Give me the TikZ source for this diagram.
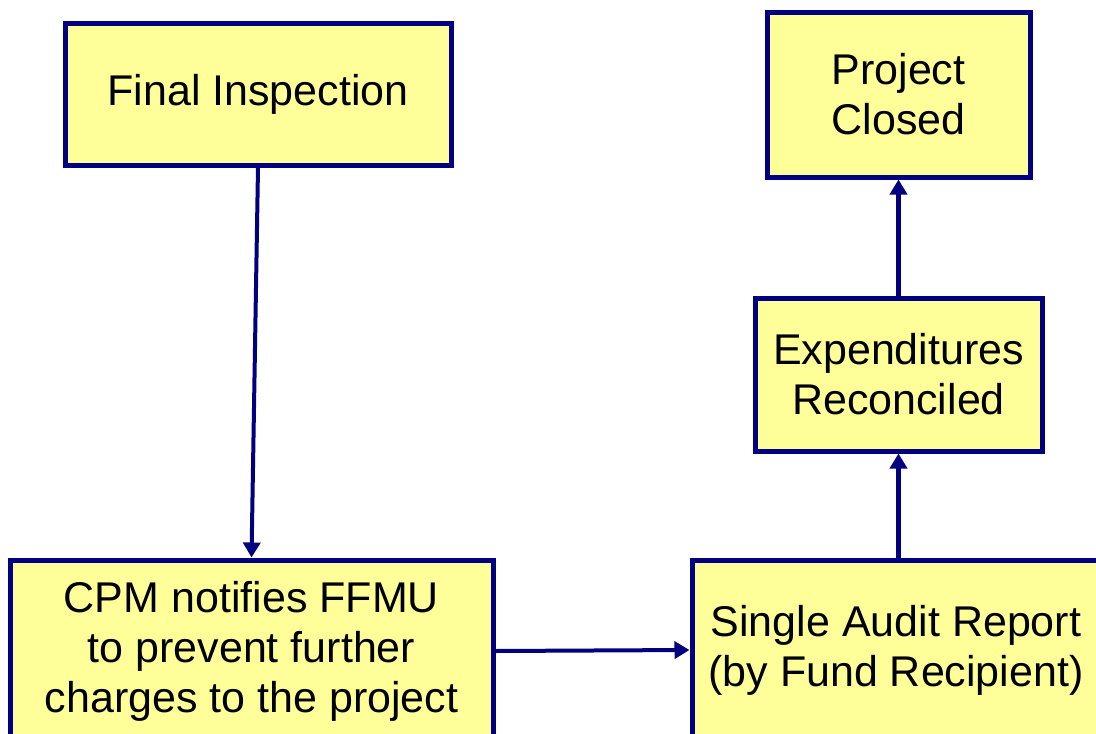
\documentclass[tikz,border=0pt]{standalone}
\usepackage{fontspec}
\setmainfont{Liberation Sans}
\usetikzlibrary{arrows.meta}
\definecolor{boxfill}{HTML}{FFFF99}
\definecolor{navy}{HTML}{000080}
\begin{document}
\begin{tikzpicture}[x=1pt,y=-1pt,
  stepbox/.style={draw=navy, line width=5pt, fill=boxfill, align=center,
    inner sep=0pt, font=\fontsize{43}{50}\selectfont},
  flow/.style={draw=navy, -{Triangle[width=17pt,length=15pt]}}]
  \clip (0,0) rectangle (1096,734);
  \fill[white] (0,0) rectangle (1096,734);
  % process boxes
  \node[stepbox, minimum width=386pt, minimum height=142pt] (fi) at (258,94) {Final Inspection};
  \node[stepbox, minimum width=263pt, minimum height=165pt] (pc) at (898.5,94.5) {Project\\Closed};
  \node[stepbox, minimum width=287pt, minimum height=153pt] (ex) at (898.5,374.5) {Expenditures\\Reconciled};
  \node[stepbox, minimum width=483pt, minimum height=182pt] (cpm) at (251.5,651) {CPM notifies FFMU\\to prevent further\\charges to the project};
  \node[stepbox, minimum width=408pt, minimum height=180pt] (sa) at (896,650) {Single Audit Report\\(by Fund Recipient)};
  % connectors
  \draw[flow, line width=4pt] (fi.south) -- (cpm.north);
  \draw[flow, line width=4pt] (cpm.east) -- (sa.west);
  \draw[flow, line width=5pt] (ex.south |- sa.north) -- (ex.south);
  \draw[flow, line width=5pt] (ex.north) -- (pc.south);
\end{tikzpicture}
\end{document}
